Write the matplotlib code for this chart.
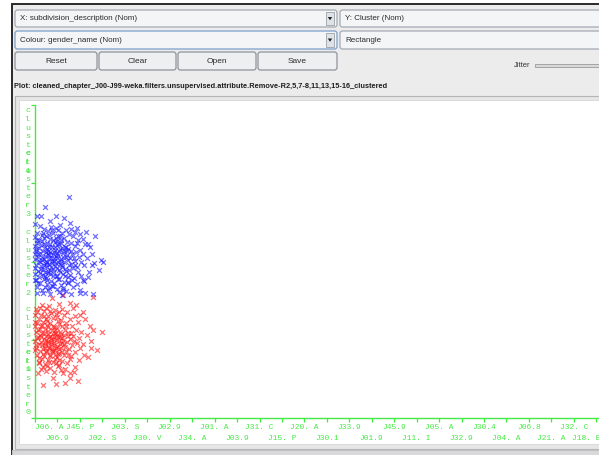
import matplotlib
matplotlib.use('Agg')
import matplotlib.pyplot as plt
from matplotlib.patches import Rectangle, FancyBboxPatch, Polygon

# ---------------- data ----------------
x_categories = ["J06. A", "J06.9", "J45. P", "J02. S", "J03. S", "J30. V", "J02.9",
                "J34. A", "J01. A", "J03.9", "J31. C", "J15. P", "J20. A", "J30.1",
                "J33.9", "J01.9", "J45.9", "J11. I", "J05. A", "J32.9", "J30.4",
                "J04. A", "J06.8", "J21. A", "J32. C", "J18. E"]
y_labels = ["cluster0", "cluster1", "cluster2", "cluster3", "cluster4"]
y_label_pos = [0.45, 1.00, 1.98, 2.99, 3.54]
y_ticks = [0, 1, 2, 3, 4]

# jittered points (category units, cluster units) - gender: blue
blue_points = [
    (1.53, 2.82), (0.45, 2.70), (0.09, 2.58), (0.27, 2.58), (0.94, 2.58), (0.67, 2.52),
    (1.29, 2.55), (1.56, 2.49), (0.00, 2.48), (2.27, 2.38), (2.67, 2.32), (2.36, 2.23),
    (2.54, 2.10), (2.94, 2.02), (3.03, 1.99), (2.85, 1.89), (2.54, 1.95), (2.36, 1.80),
    (2.13, 1.76), (2.23, 1.60), (2.58, 1.59), (2.00, 1.60), (0.00, 1.76), (0.09, 1.60),
    (1.22, 1.57), (1.25, 1.64),
    (0.22, 2.46), (0.71, 2.44), (1.12, 2.47), (1.88, 2.43),
    (0.41, 2.41), (0.93, 2.43), (1.38, 2.40), (1.62, 2.42),
    (0.08, 2.37), (0.58, 2.39), (1.21, 2.36), (1.79, 2.38), (2.02, 2.35),
    (0.31, 2.34), (0.82, 2.36), (1.01, 2.33), (1.52, 2.35),
    (0.02, 2.31), (0.49, 2.33), (1.28, 2.30), (1.71, 2.32), (2.12, 2.29),
    (0.19, 2.27), (0.68, 2.29), (0.96, 2.26), (1.16, 2.28), (1.44, 2.25), (1.91, 2.27),
    (0.11, 2.24), (0.39, 2.22), (0.87, 2.25), (1.06, 2.23), (1.61, 2.24), (2.21, 2.22),
    (0.01, 2.20), (0.28, 2.21), (0.62, 2.19), (0.99, 2.21), (1.32, 2.18), (1.76, 2.20),
    (0.16, 2.17), (0.52, 2.16), (0.74, 2.18), (0.91, 2.15), (1.19, 2.17), (1.49, 2.16),
    (2.01, 2.15), (2.47, 2.18),
    (0.04, 2.13), (0.36, 2.14), (0.66, 2.12), (1.09, 2.14), (1.41, 2.13), (1.83, 2.12),
    (0.00, 2.10), (0.24, 2.11), (0.56, 2.09), (0.79, 2.10), (1.02, 2.08), (1.26, 2.11),
    (1.66, 2.09), (2.16, 2.10),
    (0.12, 2.06), (0.46, 2.07), (0.71, 2.05), (0.94, 2.07), (1.36, 2.06), (1.57, 2.04),
    (1.96, 2.06), (2.31, 2.05),
    (0.01, 2.03), (0.29, 2.02), (0.61, 2.04), (0.86, 2.01), (1.14, 2.03), (1.46, 2.02),
    (1.77, 2.01),
    (0.21, 1.99), (0.51, 2.00), (0.76, 1.98), (1.04, 2.00), (1.31, 1.99), (1.59, 1.97),
    (2.06, 1.99), (2.62, 1.98),
    (0.06, 1.96), (0.41, 1.95), (0.64, 1.97), (0.89, 1.94), (1.22, 1.96), (1.51, 1.95),
    (1.86, 1.93), (2.19, 1.96),
    (0.00, 1.92), (0.26, 1.91), (0.54, 1.93), (0.81, 1.90), (0.99, 1.92), (1.34, 1.91),
    (1.69, 1.92),
    (0.14, 1.88), (0.44, 1.87), (0.69, 1.89), (1.11, 1.86), (1.39, 1.88), (1.92, 1.87),
    (2.41, 1.86),
    (0.02, 1.84), (0.34, 1.83), (0.59, 1.85), (0.92, 1.82), (1.24, 1.84), (1.56, 1.83),
    (2.04, 1.82),
    (0.19, 1.80), (0.49, 1.79), (0.79, 1.81), (1.06, 1.78), (1.46, 1.80), (1.74, 1.79),
    (0.04, 1.76), (0.39, 1.77), (0.72, 1.75), (1.01, 1.77), (1.29, 1.74), (1.64, 1.76),
    (2.19, 1.75),
    (0.24, 1.72), (0.54, 1.71), (0.84, 1.73), (1.16, 1.70), (1.49, 1.72), (1.89, 1.71),
    (0.09, 1.68), (0.44, 1.67), (0.74, 1.69), (1.24, 1.66), (1.69, 1.68),
    (0.29, 1.64), (0.59, 1.63), (0.99, 1.65), (1.39, 1.62), (1.99, 1.64),
    (0.34, 1.60), (0.69, 1.59), (1.09, 1.61), (1.59, 1.58),
    (0.33, 2.06), (0.58, 2.13), (0.83, 2.04), (0.47, 1.97), (0.73, 1.93), (1.18, 2.01),
    (0.95, 1.98), (0.37, 1.90), (0.63, 2.08), (0.88, 2.19), (1.08, 1.89), (0.53, 2.24),
    (0.79, 2.27), (1.27, 2.14), (0.18, 2.01), (0.42, 2.30), (1.13, 2.32), (0.67, 1.84),
    (0.97, 2.11), (1.21, 1.93),
    (0.15, 2.09), (0.44, 2.18), (0.69, 2.22), (0.92, 2.30), (1.17, 2.24), (1.38, 2.19),
    (0.27, 1.94), (0.57, 1.88), (0.86, 1.86), (1.12, 1.97), (1.43, 2.08), (1.62, 2.13),
    (0.09, 2.27), (0.35, 2.37), (0.61, 2.34), (1.04, 2.40), (0.48, 2.12), (0.74, 2.01),
    (1.00, 2.04), (1.24, 2.06), (0.23, 1.85), (0.52, 1.76), (0.81, 1.69), (1.33, 1.81),
    (1.53, 1.89), (1.72, 2.05), (1.85, 2.24), (0.06, 2.16), (0.39, 2.03), (0.96, 1.82),
    (0.12, 1.72), (0.64, 1.66), (0.30, 2.26), (0.84, 2.12), (1.10, 2.16), (0.55, 1.99),
    (0.76, 2.40), (1.47, 1.74), (1.80, 1.95), (0.43, 1.81),
]

# gender: red
red_points = [
    (0.76, 1.53), (1.26, 1.57), (2.58, 1.55), (1.56, 1.47), (0.05, 1.39), (0.89, 1.38),
    (2.00, 1.31), (0.00, 1.23), (2.58, 1.12), (2.98, 1.10), (2.76, 0.87), (0.00, 0.87),
    (0.13, 0.58), (0.36, 0.42), (0.80, 0.51), (1.24, 0.58), (1.56, 0.51), (1.74, 0.59),
    (1.78, 0.65), (0.54, 0.67), (2.36, 0.78), (2.50, 0.90), (0.20, 0.72), (1.90, 0.47),
    (1.35, 0.45), (0.95, 0.44),
    (0.32, 1.45), (0.61, 1.43), (1.05, 1.46), (1.82, 1.44),
    (0.21, 1.40), (0.48, 1.41), (1.21, 1.39), (1.69, 1.40),
    (0.11, 1.35), (0.39, 1.37), (0.72, 1.34), (1.09, 1.36), (1.44, 1.35), (2.12, 1.36),
    (0.02, 1.31), (0.28, 1.32), (0.58, 1.30), (0.94, 1.33), (1.31, 1.31), (1.79, 1.30),
    (0.18, 1.27), (0.47, 1.26), (0.81, 1.28), (1.16, 1.25), (1.54, 1.27), (2.24, 1.26),
    (0.09, 1.22), (0.36, 1.23), (0.66, 1.21), (1.01, 1.24), (1.39, 1.22), (1.93, 1.23),
    (0.01, 1.18), (0.26, 1.17), (0.54, 1.19), (0.86, 1.16), (1.21, 1.18), (1.64, 1.17),
    (2.44, 1.18),
    (0.14, 1.13), (0.44, 1.14), (0.74, 1.12), (0.99, 1.15), (1.34, 1.13), (1.84, 1.12),
    (0.03, 1.10), (0.31, 1.09), (0.59, 1.11), (0.89, 1.08), (1.11, 1.10), (1.49, 1.09),
    (2.04, 1.10),
    (0.21, 1.06), (0.49, 1.05), (0.79, 1.07), (1.04, 1.04), (1.27, 1.06), (1.71, 1.05),
    (2.31, 1.06),
    (0.08, 1.02), (0.38, 1.01), (0.64, 1.03), (0.94, 1.00), (1.19, 1.02), (1.57, 1.01),
    (1.98, 1.02),
    (0.00, 0.98), (0.27, 0.97), (0.56, 0.99), (0.84, 0.96), (1.09, 0.98), (1.41, 0.97),
    (1.87, 0.96), (2.49, 0.98),
    (0.16, 0.94), (0.46, 0.93), (0.71, 0.95), (0.99, 0.92), (1.29, 0.94), (1.66, 0.93),
    (2.14, 0.94),
    (0.06, 0.89), (0.34, 0.88), (0.61, 0.90), (0.91, 0.87), (1.17, 0.89), (1.51, 0.88),
    (2.00, 0.89),
    (0.23, 0.85), (0.51, 0.84), (0.81, 0.86), (1.06, 0.83), (1.37, 0.85), (1.79, 0.84),
    (0.11, 0.80), (0.41, 0.79), (0.69, 0.81), (0.97, 0.78), (1.27, 0.80), (1.61, 0.79),
    (2.20, 0.80),
    (0.29, 0.75), (0.59, 0.74), (0.89, 0.76), (1.19, 0.73), (1.54, 0.75), (1.95, 0.74),
    (0.16, 0.70), (0.46, 0.69), (0.79, 0.71), (1.09, 0.68), (1.44, 0.70),
    (0.36, 0.65), (0.66, 0.64), (1.01, 0.66), (1.34, 0.63),
    (0.51, 0.60), (0.86, 0.59), (1.14, 0.61), (1.56, 0.58),
    (0.49, 1.00), (0.73, 0.97), (0.98, 1.05), (0.62, 0.91), (0.87, 1.12), (1.13, 0.94),
    (0.41, 1.08), (0.76, 0.85), (1.02, 0.82), (0.58, 1.16), (0.33, 0.93), (1.24, 1.00),
    (0.69, 1.05), (0.92, 0.90), (1.14, 1.07), (0.52, 0.86), (0.81, 1.01), (0.28, 1.03),
    (0.66, 0.79), (1.05, 1.20),
    (0.14, 1.04), (0.43, 0.96), (0.70, 1.01), (0.95, 1.09), (1.20, 0.96), (1.46, 1.05),
    (0.24, 1.14), (0.57, 1.07), (0.83, 0.93), (1.07, 0.88), (1.33, 0.91), (0.37, 0.82),
    (0.64, 0.72), (0.94, 0.70), (1.22, 0.84), (0.06, 0.93), (0.30, 1.19), (0.52, 1.24),
    (0.78, 1.18), (1.00, 1.29), (1.36, 1.17), (1.62, 1.08), (1.75, 0.98), (0.18, 0.77),
    (0.46, 0.89), (0.74, 0.88), (1.12, 1.03), (0.89, 0.81), (0.60, 0.96), (0.86, 1.04),
    (1.48, 0.80), (0.40, 1.30), (0.69, 1.37), (1.05, 0.74), (0.27, 0.62),
]

blue_x, blue_y = zip(*blue_points)
red_x, red_y = zip(*red_points)

# ---------------- figure / GUI chrome ----------------
W, H = 599, 455
fig = plt.figure(figsize=(W / 100, H / 100), dpi=100)
fig.patch.set_facecolor('white')

gui = fig.add_axes([0, 0, 1, 1])
gui.set_xlim(0, W)
gui.set_ylim(H, 0)
gui.axis('off')

UI = ['Liberation Sans Narrow', 'Liberation Sans', 'DejaVu Sans']
MONO = ['Liberation Mono', 'DejaVu Sans Mono']

gui.add_patch(Rectangle((11.5, 3.5), W, H, facecolor='#ececec', edgecolor='#2a2a2a', lw=1.4))


def combo(x0, x1, y0, y1, text, arrow=True, focus=False):
    gui.add_patch(FancyBboxPatch((x0, y0), x1 - x0, y1 - y0,
                                 boxstyle='round,pad=0,rounding_size=2.5',
                                 facecolor='#f4f5f7',
                                 edgecolor='#7b9fcc' if focus else '#a3aab3', lw=0.9))
    gui.text(x0 + 5, (y0 + y1) / 2 + 0.5, text, fontsize=5.8, family=UI,
             va='center', ha='left', color='#2b2b2b')
    if arrow:
        ax0 = x1 - 11
        gui.add_patch(Rectangle((ax0, y0 + 2), 8, y1 - y0 - 4, facecolor='#dfe3e8',
                                edgecolor='#9aa1aa', lw=0.6))
        cx, cy = ax0 + 4, (y0 + y1) / 2
        gui.add_patch(Polygon([(cx - 2.2, cy - 1.5), (cx + 2.2, cy - 1.5), (cx, cy + 1.8)],
                              closed=True, facecolor='#222222', edgecolor='none'))


combo(15, 337, 10, 27, 'X: subdivision_description (Nom)')
combo(340, 610, 10, 27, 'Y: Cluster (Nom)', arrow=False)
combo(15, 337, 31, 49, 'Colour: gender_name (Nom)', focus=True)
combo(340, 610, 31, 49, 'Rectangle', arrow=False)

for (bx0, bx1, label) in [(15, 97, 'Reset'), (99, 176, 'Clear'), (178, 256, 'Open'), (258, 337, 'Save')]:
    gui.add_patch(FancyBboxPatch((bx0, 52), bx1 - bx0, 18,
                                 boxstyle='round,pad=0,rounding_size=2.5',
                                 facecolor='#eeeff1', edgecolor='#8f949a', lw=0.9))
    gui.text((bx0 + bx1) / 2, 61.5, label, fontsize=6.0, family=UI,
             ha='center', va='center', color='#2b2b2b')

gui.text(514, 65.5, 'Jitter', fontsize=5.4, family=UI, ha='left', va='center', color='#333333')
gui.add_patch(Rectangle((535, 64), 70, 2.6, facecolor='#d8d8d8', edgecolor='#9a9a9a', lw=0.6))

gui.text(14, 87, 'Plot: cleaned_chapter_J00-J99-weka.filters.unsupervised.attribute.'
         'Remove-R2,5,7-8,11,13,15-16_clustered',
         fontsize=5.3, family=UI, fontweight='bold', ha='left', va='center', color='#1e1e1e')

# plot panel
gui.add_patch(Rectangle((14.5, 95.5), W, 353, facecolor='#e6e6e6', edgecolor='#b5b5b5', lw=0.8))
gui.add_patch(Rectangle((19, 100), W, 344, facecolor='white', edgecolor='#d2d2d2', lw=0.5))
gui.add_patch(Rectangle((12.2, 449.5), W, 8, facecolor='#d9d9db', edgecolor='#c2c2c2', lw=0.8))

# ---------------- data axes ----------------
px0, px_step = 35.0, 22.45
py0, py_step = 418.0, 78.25
left_px, right_px, top_px, bot_px = 19, W, 100, 444

ax = fig.add_axes([left_px / W, (H - bot_px) / H, (right_px - left_px) / W, (bot_px - top_px) / H])
ax.set_xlim((left_px - px0) / px_step, (right_px - px0) / px_step)
ax.set_ylim((py0 - bot_px) / py_step, (py0 - top_px) / py_step)
ax.axis('off')
ax.patch.set_alpha(0)

GREEN = '#44ea44'
xmax = (right_px - px0) / px_step
ax.plot([0, 0], [0, y_ticks[-1]], color=GREEN, lw=1.0, clip_on=False)
ax.plot([0, xmax], [0, 0], color=GREEN, lw=1.0, clip_on=False)
ax.vlines(range(len(x_categories)), -4.0 / py_step, 0, color=GREEN, lw=0.9)
ax.hlines(y_ticks, -4.0 / px_step, 0, color=GREEN, lw=0.9)

row_y = [(py0 - 427.5) / py_step, (py0 - 438) / py_step]
last = len(x_categories) - 1
for i, lab in enumerate(x_categories):
    if i == 0:
        xpos, ha = 0, 'left'
    elif i == last:
        xpos, ha = (W + 1 - px0) / px_step, 'right'
    else:
        xpos, ha = i, 'center'
    ax.text(xpos, row_y[i % 2], lab, fontsize=5.7, family=MONO, color=GREEN,
            ha=ha, va='center', clip_on=False)

for lab, pos in zip(y_labels, y_label_pos):
    ax.text(-7.5 / px_step, pos, '\n'.join(lab), fontsize=6.0, family=MONO, color=GREEN,
            ha='center', va='center', linespacing=1.32, clip_on=False)

ax.scatter(red_x, red_y, marker='x', s=12, linewidths=0.9, color='#ff1a1a', alpha=0.62, zorder=3)
ax.scatter(blue_x, blue_y, marker='x', s=12, linewidths=0.9, color='#1a1aff', alpha=0.62, zorder=3)

fig.savefig('out.png', dpi=100, facecolor=fig.get_facecolor())
